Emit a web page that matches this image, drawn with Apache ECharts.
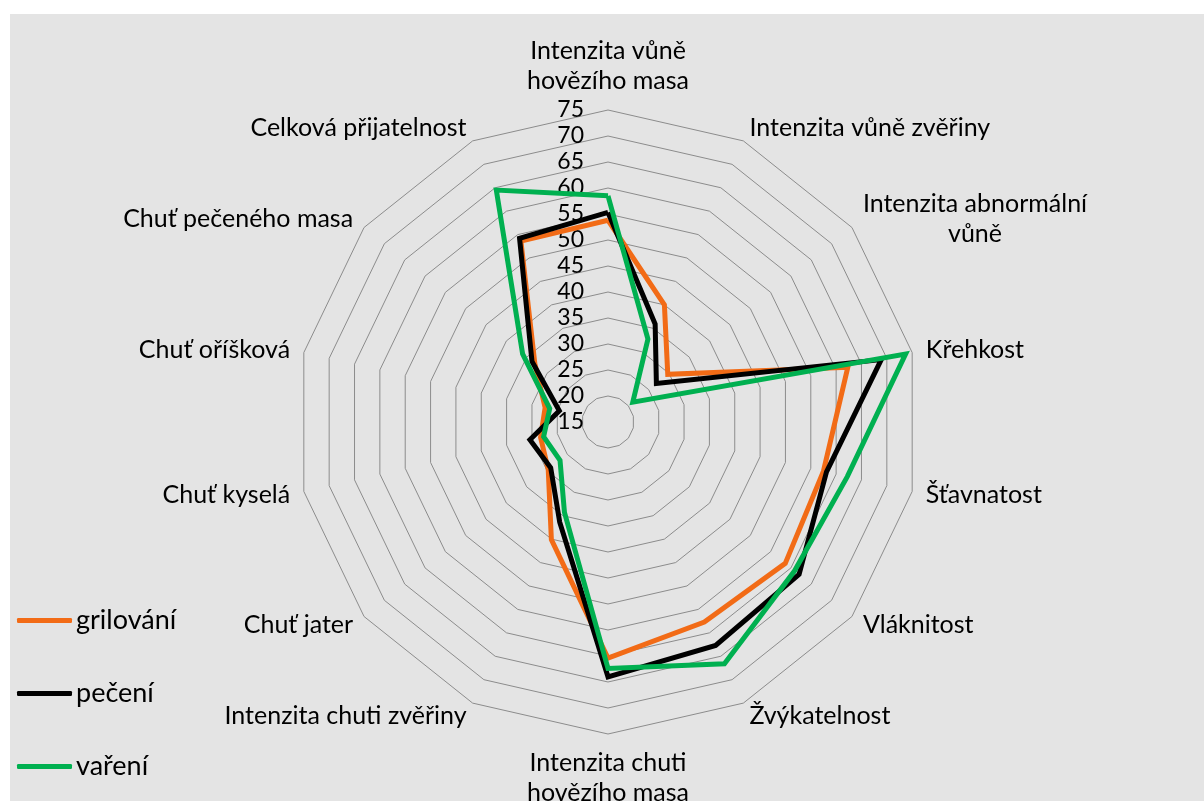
<!DOCTYPE html>
<html>
<head>
<meta charset="utf-8">
<script src="https://cdn.jsdelivr.net/npm/echarts@6/dist/echarts.min.js"></script>
<style>
  html, body { margin: 0; padding: 0; background: #fff; }
  #mainChart { position: absolute; left: 10px; top: 14px; width: 1194px; height: 787px; }
</style>
</head>
<body>
<div id="mainChart"></div>
<script>
// attributes, clockwise from the top
var attributes = [
    'Intenzita vůně\nhovězího masa',
    'Intenzita vůně zvěřiny',
    'Intenzita abnormální\nvůně',
    'Křehkost',
    'Šťavnatost',
    'Vláknitost',
    'Žvýkatelnost',
    'Intenzita chuti\nhovězího masa',
    'Intenzita chuti zvěřiny',
    'Chuť jater',
    'Chuť kyselá',
    'Chuť oříšková',
    'Chuť pečeného masa',
    'Celková přijatelnost'
];

var grilovani = [53.8, 40.0, 29.7, 62.3, 57.5, 58.6, 57.7, 60.4, 40.1, 29.7, 28.3, 27.4, 33.0, 53.6];
var peceni    = [55.3, 35.9, 26.9, 68.9, 58.1, 62.0, 62.7, 64.0, 36.4, 29.1, 30.4, 24.6, 33.7, 54.2];
var vareni    = [58.5, 32.7, 21.1, 73.7, 62.2, 60.9, 66.6, 62.4, 34.3, 26.8, 27.7, 26.5, 36.0, 64.5];

var seriesNames = ['grilování', 'pečení', 'vaření'];
var seriesColors = ['#F26B16', '#000000', '#00B050'];

// echarts radar runs counter-clockwise, so keep the first item and reverse the rest
function clockwise(arr) {
    return [arr[0]].concat(arr.slice(1).reverse());
}

var indicators = clockwise(attributes).map(function (name, i) {
    var ind = { name: name, min: 15, max: 75 };
    if (i == 0) {
        ind.axisLabel = { show: true };
    }
    return ind;
});

var values = [grilovani, peceni, vareni];
var series = [];
for (var i = 0; i < values.length; i++) {
    series.push({
        name: seriesNames[i],
        type: 'radar',
        symbol: 'none',
        lineStyle: { width: 5, color: seriesColors[i], join: 'miter' },
        itemStyle: { color: seriesColors[i] },
        data: [{ name: seriesNames[i], value: clockwise(values[i]) }]
    });
}

var myChart = echarts.init(document.getElementById('mainChart'));

var option = {
    backgroundColor: '#e4e4e4',
    animation: false,
    legend: {
        data: seriesNames,
        orient: 'vertical',
        left: 2,
        top: 588,
        itemWidth: 55,
        itemHeight: 5,
        itemGap: 46,
        icon: 'roundRect',
        textStyle: { fontFamily: 'Lato', fontSize: 27, color: '#000', padding: [0, 0, 0, -1] }
    },
    radar: {
        center: [598, 408],
        radius: 312,
        startAngle: 90,
        splitNumber: 12,
        shape: 'polygon',
        nameGap: 14,
        indicator: indicators,
        axisName: {
            color: '#000',
            fontFamily: 'Lato',
            fontSize: 25,
            formatter: function (name) {
                return name.split('\n').map(function (s) { return '{c|' + s + '}'; }).join('\n');
            },
            rich: {
                c: { align: 'center', fontFamily: 'Lato', fontSize: 25, color: '#000', lineHeight: 30 }
            }
        },
        axisLine: { show: false },
        axisTick: { show: false },
        axisLabel: { show: false, color: '#000', fontFamily: 'Lato', fontSize: 23, margin: 24 },
        splitLine: { lineStyle: { color: '#8c8c8c', width: 1 } },
        splitArea: { show: false }
    },
    series: series
};

myChart.setOption(option);
</script>
</body>
</html>
